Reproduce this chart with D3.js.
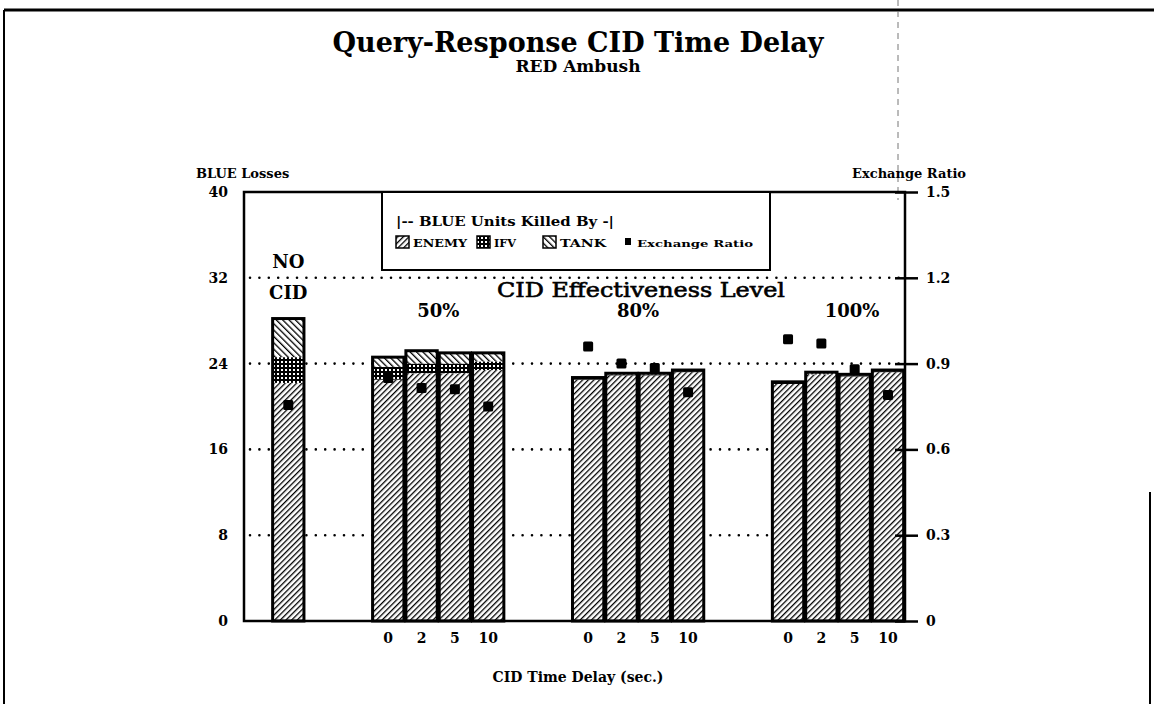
<!DOCTYPE html>
<html lang="en">
<head>
<meta charset="utf-8">
<title>Query-Response CID Time Delay</title>
<script src="https://cdn.jsdelivr.net/npm/d3@7"></script>
<style>
  body { margin: 0; background: #fff; }
  svg text { font-family: "DejaVu Serif", serif; font-weight: bold; fill: #000; }
</style>
</head>
<body>
<script>
// ---- data ----
var groups     = ["NO CID", "50%", "80%", "100%"];
var delays     = ["0", "2", "5", "10"];
var barGroup   = ["NO CID", "50%", "50%", "50%", "50%", "80%", "80%", "80%", "80%", "100%", "100%", "100%", "100%"];
var barDelay   = ["", "0", "2", "5", "10", "0", "2", "5", "10", "0", "2", "5", "10"];
var enemyKills = [22.2, 22.5, 23.1, 23.1, 23.4, 22.5, 22.9, 22.9, 23.2, 22.1, 23.0, 22.8, 23.2];
var ifvKills   = [2.4, 1.2, 0.9, 0.9, 0.8, 0.1, 0.1, 0.1, 0.1, 0.1, 0.1, 0.1, 0.1];
var tankKills  = [3.6, 0.9, 1.2, 1.0, 0.8, 0.1, 0.1, 0.1, 0.1, 0.1, 0.1, 0.1, 0.1];
var exchRatio  = [0.755, 0.85, 0.815, 0.81, 0.75, 0.96, 0.90, 0.885, 0.80, 0.985, 0.97, 0.88, 0.79];
var leftTicks  = [0, 8, 16, 24, 32, 40];
var rightTicks = [0, 0.3, 0.6, 0.9, 1.2, 1.5];

var W = 1154, H = 704;
// plot box (don't call these top/left: window.top is read only)
var pL = 244, pR = 905, pT = 192, pB = 621;

var svg = d3.select("body").append("svg").attr("width", W).attr("height", H);

// patterns
var defs = svg.append("defs");
function hatch(id, angle, size, lw) {
  var p = defs.append("pattern").attr("id", id)
    .attr("patternUnits", "userSpaceOnUse")
    .attr("width", size).attr("height", size)
    .attr("patternTransform", "rotate(" + angle + ")");
  p.append("rect").attr("width", size).attr("height", size).attr("fill", "#fff");
  p.append("line").attr("x1", 0).attr("y1", 0).attr("x2", 0).attr("y2", size)
    .attr("stroke", "#000").attr("stroke-width", lw);
}
hatch("enemy", 45, 4, 2.6);
hatch("tank", -45, 4.5, 2.6);
var g = defs.append("pattern").attr("id", "ifv")
  .attr("patternUnits", "userSpaceOnUse").attr("width", 4).attr("height", 4);
g.append("rect").attr("width", 4).attr("height", 4).attr("fill", "#000");
g.append("rect").attr("x", 1).attr("y", 1).attr("width", 2).attr("height", 2).attr("fill", "#fff");

// page frame (scan edges)
svg.append("line").attr("x1", 4).attr("x2", W).attr("y1", 10).attr("y2", 10)
  .attr("stroke", "#000").attr("stroke-width", 3);
svg.append("line").attr("x1", 4).attr("x2", 4).attr("y1", 10).attr("y2", H)
  .attr("stroke", "#000").attr("stroke-width", 2);
svg.append("line").attr("x1", 898).attr("x2", 898).attr("y1", 0).attr("y2", 200)
  .attr("stroke", "#777").attr("stroke-width", 1).attr("stroke-dasharray", "6,5");
svg.append("line").attr("x1", 1150).attr("x2", 1150).attr("y1", 492).attr("y2", H)
  .attr("stroke", "#000").attr("stroke-width", 2);

// scales
var keys = [];
var barKeys = barGroup.map(function(d, i) { return d + "|" + barDelay[i]; });
groups.forEach(function(gr, gi) {
  if (gi > 0) { keys.push("gapA" + gi); keys.push("gapB" + gi); }
  barKeys.forEach(function(k, i) { if (barGroup[i] == gr) keys.push(k); });
});
var x = d3.scaleBand().domain(keys).range([pL, pR])
  .paddingInner(0.06).paddingOuter(0.45).align(0.955);
var y = d3.scaleLinear().domain([0, 40]).range([pB, pT]);
var y2 = d3.scaleLinear().domain([0, 1.5]).range([pB, pT]);

// dotted grid
svg.append("g").selectAll("line").data(leftTicks.slice(1, 5)).enter().append("line")
  .attr("x1", pL + 6).attr("x2", pR - 4)
  .attr("y1", function(d) { return y(d); }).attr("y2", function(d) { return y(d); })
  .attr("stroke", "#000").attr("stroke-width", 2.6)
  .attr("stroke-linecap", "round").attr("stroke-dasharray", "0,9.4");

// stacked bars
var rows = barKeys.map(function(k, i) {
  return { key: k, enemy: enemyKills[i], ifv: ifvKills[i], tank: tankKills[i], ratio: exchRatio[i] };
});
var stack = d3.stack().keys(["enemy", "ifv", "tank"])(rows);
var bars = svg.append("g");
stack.forEach(function(layer) {
  bars.append("g").selectAll("rect").data(layer).enter().append("rect")
    .attr("x", function(d) { return x(d.data.key); })
    .attr("width", x.bandwidth())
    .attr("y", function(d) { return y(d[1]); })
    .attr("height", function(d) { return y(d[0]) - y(d[1]); })
    .attr("fill", "url(#" + layer.key + ")");
});
bars.append("g").selectAll("rect").data(rows).enter().append("rect")
  .attr("x", function(d) { return x(d.key); })
  .attr("width", x.bandwidth())
  .attr("y", function(d) { return y(d.enemy + d.ifv + d.tank); })
  .attr("height", function(d) { return pB - y(d.enemy + d.ifv + d.tank); })
  .attr("fill", "none").attr("stroke", "#000").attr("stroke-width", 3);

// exchange ratio markers
svg.append("g").selectAll("rect").data(rows).enter().append("rect")
  .attr("x", function(d) { return x(d.key) + x.bandwidth() / 2 - 5; })
  .attr("y", function(d) { return y2(d.ratio) - 5; })
  .attr("width", 10).attr("height", 10).attr("rx", 1.5).attr("fill", "#000");

// plot frame
svg.append("rect").attr("x", pL).attr("y", pT)
  .attr("width", pR - pL).attr("height", pB - pT)
  .attr("fill", "none").attr("stroke", "#000").attr("stroke-width", 2.5);

// axes
var yAxis = svg.append("g").attr("transform", "translate(" + pL + ",0)")
  .call(d3.axisLeft(y).tickValues(leftTicks).tickSize(0).tickPadding(16));
var y2Axis = svg.append("g").attr("transform", "translate(" + pR + ",0)")
  .call(d3.axisRight(y2).tickValues(rightTicks).tickSize(13).tickPadding(8)
    .tickFormat(function(d) { return d == 0 ? "0" : d3.format(".1f")(d); }));
y2Axis.selectAll(".tick line").attr("x1", -10).attr("stroke-width", 2.5);
var xAxis = svg.append("g").attr("transform", "translate(0," + pB + ")")
  .call(d3.axisBottom(x).tickValues(barKeys.slice(1)).tickSize(0).tickPadding(12)
    .tickFormat(function(k) { return k.split("|")[1]; }));
[yAxis, y2Axis, xAxis].forEach(function(a) {
  a.select(".domain").remove();
  a.selectAll("text").style("font-family", "DejaVu Serif").style("font-weight", "bold")
    .attr("font-size", 14);
});

// group labels
groups.forEach(function(gr) {
  var inGroup = barKeys.filter(function(k, i) { return barGroup[i] == gr; });
  var cx = (x(inGroup[0]) + x(inGroup[inGroup.length - 1]) + x.bandwidth()) / 2;
  if (gr == "NO CID") {
    svg.append("text").attr("x", cx).attr("y", 268).attr("text-anchor", "middle")
      .attr("font-size", 18).text("NO");
    svg.append("text").attr("x", cx).attr("y", 299).attr("text-anchor", "middle")
      .attr("font-size", 18).text("CID");
  } else {
    svg.append("text").attr("x", cx + (gr == "100%" ? 14 : 0)).attr("y", 317)
      .attr("text-anchor", "middle").attr("font-size", 18).text(gr);
  }
});
svg.append("text").attr("x", 641).attr("y", 297).attr("text-anchor", "middle")
  .attr("font-size", 20).style("font-weight", "normal")
  .attr("textLength", 288).attr("lengthAdjust", "spacingAndGlyphs")
  .attr("stroke", "#000").attr("stroke-width", 0.6).text("CID Effectiveness Level");

// legend
var lg = svg.append("g");
lg.append("rect").attr("x", 382).attr("y", pT).attr("width", 388).attr("height", 78)
  .attr("fill", "#fff").attr("stroke", "#000").attr("stroke-width", 2);
lg.append("text").attr("x", 396).attr("y", 226).attr("font-size", 12)
  .attr("textLength", 218).attr("lengthAdjust", "spacingAndGlyphs")
  .text("|-- BLUE Units Killed By -|");
var items = [["enemy", "ENEMY", 396, 54], ["ifv", "IFV", 477, 22], ["tank", "TANK", 543, 46]];
items.forEach(function(it) {
  lg.append("rect").attr("x", it[2]).attr("y", 236).attr("width", 13).attr("height", 12)
    .attr("fill", "url(#" + it[0] + ")").attr("stroke", "#000").attr("stroke-width", 1.5);
  lg.append("text").attr("x", it[2] + 17).attr("y", 247).attr("font-size", 10.5)
    .attr("textLength", it[3]).attr("lengthAdjust", "spacingAndGlyphs").text(it[1]);
});
lg.append("rect").attr("x", 625).attr("y", 238).attr("width", 6).attr("height", 7).attr("fill", "#000");
lg.append("text").attr("x", 637).attr("y", 247).attr("font-size", 10)
  .attr("textLength", 116).attr("lengthAdjust", "spacingAndGlyphs").text("Exchange Ratio");

// titles
svg.append("text").attr("x", 578).attr("y", 52).attr("text-anchor", "middle")
  .attr("font-size", 27).text("Query-Response CID Time Delay");
svg.append("text").attr("x", 578).attr("y", 72).attr("text-anchor", "middle")
  .attr("font-size", 17).text("RED Ambush");
svg.append("text").attr("x", 196).attr("y", 178).attr("font-size", 13).text("BLUE Losses");
svg.append("text").attr("x", 966).attr("y", 178).attr("text-anchor", "end")
  .attr("font-size", 13).text("Exchange Ratio");
svg.append("text").attr("x", 578).attr("y", 682).attr("text-anchor", "middle")
  .attr("font-size", 14).text("CID Time Delay (sec.)");
</script>
</body>
</html>
